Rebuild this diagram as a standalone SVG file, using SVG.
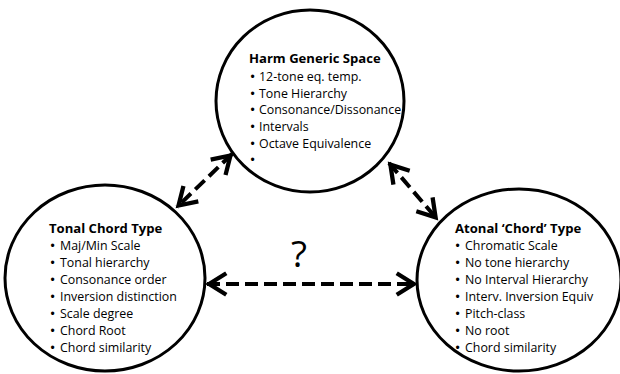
<svg xmlns="http://www.w3.org/2000/svg" width="620" height="374" viewBox="0 0 620 374">
<style>
.node ellipse{fill:#fff;stroke:#000;stroke-width:3}
.t{font-family:"Open Sans","Liberation Sans",sans-serif;font-size:13.1px;font-weight:bold;fill:#000}
.i{font-family:"Open Sans","Liberation Sans",sans-serif;font-size:12.4px;fill:#000}
.b{font-family:"Liberation Sans",sans-serif;font-size:12px;fill:#000;text-anchor:middle}
.conn line{stroke:#000;stroke-width:4;stroke-dasharray:13 6;marker-start:url(#ah);marker-end:url(#ah)}
.q{font-family:"Open Sans","Liberation Sans",sans-serif;font-size:37px;fill:#000;text-anchor:middle}
</style>
<defs>
<marker id="ah" markerUnits="userSpaceOnUse" markerWidth="30" markerHeight="30" viewBox="-22 -14 26 28" refX="0" refY="0" orient="auto-start-reverse" overflow="visible">
<path d="M-18,-10 L-2,0 L-18,10" fill="none" stroke="#000" stroke-width="4" stroke-linejoin="miter"/>
</marker>
</defs>
<rect width="620" height="374" fill="#fff"/>
<g id="top" class="node">
<ellipse cx="310" cy="101" rx="94" ry="91"/>
<text class="t" x="249" y="63">Harm Generic Space</text>
<text class="b" x="252.5" y="81">•</text><text class="i" x="259" y="81">12-tone eq. temp.</text>
<text class="b" x="252.5" y="97.7">•</text><text class="i" x="259" y="97.7">Tone Hierarchy</text>
<text class="b" x="252.5" y="114.3">•</text><text class="i" x="259" y="114.3">Consonance/Dissonance</text>
<text class="b" x="252.5" y="131">•</text><text class="i" x="259" y="131">Intervals</text>
<text class="b" x="252.5" y="147.7">•</text><text class="i" x="259" y="147.7">Octave Equivalence</text>
<text class="b" x="252.5" y="164.3">•</text>
</g>
<g id="tonal" class="node">
<ellipse cx="105" cy="278" rx="100" ry="93"/>
<text class="t" x="49" y="232.5">Tonal Chord Type</text>
<text class="b" x="52.5" y="249.5">•</text><text class="i" x="60" y="249.5">Maj/Min Scale</text>
<text class="b" x="52.5" y="266.5">•</text><text class="i" x="60" y="266.5">Tonal hierarchy</text>
<text class="b" x="52.5" y="283.5">•</text><text class="i" x="60" y="283.5">Consonance order</text>
<text class="b" x="52.5" y="300.5">•</text><text class="i" x="60" y="300.5">Inversion distinction</text>
<text class="b" x="52.5" y="317.5">•</text><text class="i" x="60" y="317.5">Scale degree</text>
<text class="b" x="52.5" y="334.5">•</text><text class="i" x="60" y="334.5">Chord Root</text>
<text class="b" x="52.5" y="351.5">•</text><text class="i" x="60" y="351.5">Chord similarity</text>
</g>
<g id="atonal" class="node">
<ellipse cx="519" cy="280" rx="102" ry="91"/>
<text class="t" x="455" y="232.5">Atonal ‘Chord’ Type</text>
<text class="b" x="457.5" y="249.5">•</text><text class="i" x="465" y="249.5">Chromatic Scale</text>
<text class="b" x="457.5" y="266.5">•</text><text class="i" x="465" y="266.5">No tone hierarchy</text>
<text class="b" x="457.5" y="283.5">•</text><text class="i" x="465" y="283.5">No Interval Hierarchy</text>
<text class="b" x="457.5" y="300.5">•</text><text class="i" x="465" y="300.5">Interv. Inversion Equiv</text>
<text class="b" x="457.5" y="317.5">•</text><text class="i" x="465" y="317.5">Pitch-class</text>
<text class="b" x="457.5" y="334.5">•</text><text class="i" x="465" y="334.5">No root</text>
<text class="b" x="457.5" y="351.5">•</text><text class="i" x="465" y="351.5">Chord similarity</text>
</g>
<g id="connectors" class="conn">
<line x1="232" y1="154" x2="177" y2="207"/>
<line x1="389" y1="163" x2="437" y2="219"/>
<line x1="207" y1="284" x2="416" y2="284"/>
</g>
<text class="q" x="299" y="267">?</text>
</svg>
